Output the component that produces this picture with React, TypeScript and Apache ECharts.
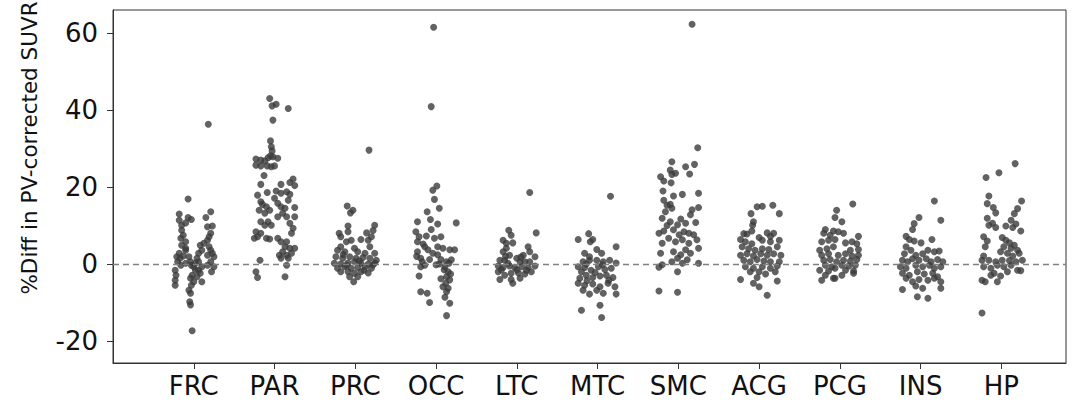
import React, { useEffect, useRef } from "react";
import * as echarts from "echarts";

const categories = ["FRC", "PAR", "PRC", "OCC", "LTC", "MTC", "SMC", "ACG", "PCG", "INS", "HP"];
const yTicks = [-20, 0, 20, 40, 60];

// each point: [jitter offset (category units), % difference]
const FRC = [[-0.18,13.0],[-0.18,11.4],[-0.07,12.1],[-0.03,11.6],[-0.15,10.1],[-0.1,10.7],[-0.15,8.8],[-0.13,7.5],[-0.16,6.7],[-0.1,5.8],[-0.15,4.9],[-0.1,4.1],[-0.18,2.8],[-0.21,1.9],[-0.17,1.5],[-0.13,2.1],[-0.2,0.6],[-0.16,-0.3],[-0.1,0.2],[-0.23,-1.6],[-0.22,-2.9],[-0.23,-4.2],[-0.23,-5.5],[-0.06,1.9],[-0.04,0.6],[-0.1,3.6],[-0.03,-0.3],[0,-0.7],[0.02,0.2],[0.04,1.5],[0.06,2.8],[0.1,3.6],[0.08,4.9],[0.125,5.4],[0.17,6.2],[0.19,7.1],[0.21,8.0],[0.23,9.9],[0.17,9.7],[0.15,12.1],[0.21,13.6],[0.19,4.5],[0.21,3.6],[0.23,2.8],[0.25,1.9],[0.17,2.3],[0.21,0.6],[0.25,-0.7],[0.22,-2.0],[0.17,-0.3],[0.1,-0.7],[0.06,-1.6],[0.08,-2.4],[0.04,-3.3],[-0.02,-2.9],[-0.04,-3.7],[0,-4.6],[-0.03,-5.5],[-0.06,-6.8],[-0.04,-7.6],[-0.05,-9.8],[-0.04,-10.6],[0.1,-4.6],[0.06,0.6],[0.02,-1.6],[0.18,36.3],[-0.07,16.9],[-0.02,-17.3]];
const PAR = [[-0.06,43.0],[-0.03,41.1],[0.02,41.5],[0.17,40.4],[-0.02,37.4],[-0.05,32.0],[-0.04,30.5],[-0.03,29.4],[-0.05,28.1],[-0.08,27.6],[-0.02,27.9],[0.04,27.5],[-0.23,27.3],[-0.17,27.0],[-0.12,26.8],[-0.23,25.7],[-0.17,25.5],[-0.09,25.5],[-0.04,25.3],[0,25.5],[-0.13,23.0],[-0.17,20.7],[0.08,20.7],[0.19,21.2],[0.23,22.1],[0.25,20.4],[-0.09,18.6],[-0.21,17.9],[0.02,19.0],[0.08,18.4],[0.15,18.8],[0.19,18.1],[-0.17,16.2],[-0.15,15.5],[-0.1,14.9],[-0.06,14.0],[-0.19,14.0],[-0.12,13.2],[0.04,15.8],[0.08,14.9],[0.13,14.5],[0.17,16.6],[0.25,14.7],[0,17.1],[-0.17,11.0],[-0.12,10.1],[-0.08,11.0],[-0.04,10.1],[0.04,12.3],[0.1,13.2],[0.15,12.3],[0.25,12.3],[0.19,10.6],[0.23,9.3],[-0.23,8.4],[-0.17,8.0],[-0.25,6.7],[-0.21,7.1],[-0.1,6.7],[-0.06,6.5],[0.04,6.7],[0.08,5.8],[0.15,5.8],[0.21,8.0],[0.13,4.5],[0.19,4.1],[0.25,4.1],[0.1,3.2],[0.06,2.3],[0.15,2.3],[0.08,1.5],[0.21,2.8],[0.17,1.5],[-0.18,1.0],[-0.23,-2.0],[-0.21,-3.5],[0.13,-3.3],[0.15,-0.3]];
const PRC = [[0.17,29.6],[-0.1,15.1],[-0.03,14.0],[-0.06,13.3],[0.24,10.1],[-0.09,9.9],[-0.2,8.0],[-0.09,8.4],[0.14,8.1],[0.22,8.7],[-0.18,7.1],[0.2,7.1],[0.07,6.4],[0.16,6.2],[-0.05,6.2],[-0.11,5.8],[-0.18,4.5],[-0.01,4.1],[0.18,4.5],[-0.22,3.6],[-0.13,3.2],[0.03,3.2],[0.12,2.8],[0.24,2.8],[-0.24,1.9],[-0.155,1.5],[-0.07,1.9],[0.01,1.5],[0.095,1.7],[0.18,1.5],[0.26,1.0],[-0.26,0.2],[-0.18,0],[-0.09,0.3],[-0.01,0.6],[0.07,0.2],[0.16,0],[0.24,0.3],[-0.22,-1.1],[-0.13,-0.7],[-0.05,-1.1],[0.03,-0.9],[0.12,-0.7],[0.2,-1.1],[-0.18,-2.0],[-0.09,-2.0],[-0.01,-2.4],[0.07,-2.0],[0.16,-2.3],[-0.07,-3.3],[0.03,-3.3],[-0.02,-4.6],[-0.15,2.5],[0.05,0.8],[-0.11,-0.3],[0.11,-1.6],[0.22,-0.2]];
const OCC = [[-0.03,61.5],[-0.06,40.9],[0.01,20.3],[-0.04,19.2],[-0.02,16.8],[-0.11,13.6],[0.04,14.5],[-0.07,11.6],[-0.23,11.0],[0.02,10.4],[0.25,10.7],[-0.25,8.4],[-0.06,9.0],[-0.21,7.1],[-0.12,7.3],[-0.02,6.7],[0.06,7.1],[-0.23,5.8],[-0.14,4.5],[-0.1,3.7],[0.02,4.5],[0.085,4.1],[0.17,3.7],[0.23,3.7],[-0.23,3.2],[-0.19,1.5],[-0.08,1.2],[0.02,2.4],[0.06,1.2],[0.13,0.6],[0.19,1.1],[-0.19,-0.7],[-0.21,-3.1],[0.11,-0.7],[0.15,-2.0],[0.13,-3.3],[0.17,-4.1],[0.085,-5.9],[0.15,-6.3],[0.13,-7.2],[-0.19,-7.2],[-0.11,-7.6],[-0.08,-10.0],[0.17,-10.2],[0.11,-8.6],[0.13,-13.4],[-0.16,5.2],[-0.24,2.0],[-0.04,2.8],[0.04,0.0],[-0.14,-0.3],[0.1,-1.5],[0.18,-2.6],[0,-0.2],[-0.17,0.6],[0.16,0.2],[0.06,-3.8],[0.12,-5.0]];
const LTC = [[0.16,18.6],[0.24,8.1],[-0.1,8.8],[-0.07,7.5],[-0.17,6.2],[-0.13,5.4],[-0.05,5.5],[-0.17,3.2],[-0.13,4.1],[-0.09,2.3],[-0.21,1.0],[-0.15,1.0],[0,1.5],[0.08,2.3],[0.14,4.5],[0.16,3.2],[0.225,1.9],[0.04,0.6],[0.1,0.6],[0.16,0.6],[-0.23,-0.5],[-0.17,-0.9],[-0.09,-0.5],[-0.025,-0.9],[0.06,-0.7],[0.14,-0.9],[0.225,-0.5],[-0.23,-2.0],[-0.15,-2.9],[-0.07,-2.4],[0.02,-2.3],[0.1,-2.6],[0.18,-2.0],[-0.21,-4.0],[-0.07,-4.0],[0.04,-3.7],[-0.05,-5.0],[-0.11,0.2],[0,-1.5],[0.12,-1.6],[-0.19,-1.5],[0.05,1.8],[-0.14,2.0]];
const MTC = [[0.16,17.6],[-0.11,7.9],[-0.24,6.4],[-0.06,6.4],[-0.09,5.8],[0.23,4.5],[-0.01,3.8],[0.05,2.8],[-0.16,2.8],[-0.1,1.9],[-0.18,0.6],[-0.1,1.0],[-0.01,1.0],[0.07,0.6],[0.15,1.0],[0.23,0.3],[-0.24,-0.7],[-0.16,-0.9],[-0.08,-1.6],[0.01,-0.7],[0.09,-1.4],[0.17,-1.1],[-0.22,-3.7],[-0.14,-2.9],[-0.06,-3.5],[0.03,-3.1],[0.11,-2.9],[0.19,-3.5],[-0.24,-5.0],[-0.16,-5.5],[-0.06,-5.2],[0.03,-5.9],[0.13,-5.0],[0.215,-5.9],[-0.18,-6.8],[-0.1,-7.8],[-0.01,-6.8],[0.07,-7.6],[0.23,-7.8],[0.03,-10.7],[-0.2,-12.0],[0.05,-13.9],[-0.13,-4.3],[0.14,-4.2],[-0.03,-2.2],[-0.2,-2.0],[0.06,-0.2],[-0.14,0.0]];
const SMC = [[0.17,62.3],[0.24,30.2],[-0.08,26.6],[0.09,25.3],[0.2,25.9],[-0.1,24.4],[-0.22,22.7],[-0.18,21.6],[-0.08,23.3],[-0.035,23.6],[0.14,23.4],[-0.09,21.1],[-0.19,19.0],[-0.06,17.7],[0.05,18.1],[0.25,18.4],[-0.18,16.6],[-0.14,15.3],[-0.1,15.5],[-0.08,14.5],[-0.16,13.6],[0.17,14.1],[0.25,14.7],[-0.2,11.9],[0.15,12.8],[0.03,11.7],[-0.1,11.0],[-0.01,10.2],[0.09,10.6],[0.215,10.8],[-0.24,8.0],[-0.18,8.6],[-0.14,10.0],[-0.06,8.9],[0.01,7.6],[0.07,8.4],[0.13,8.0],[0.19,7.6],[-0.2,5.4],[-0.12,6.7],[-0.035,5.8],[0.05,6.3],[0.13,5.4],[0.23,6.3],[-0.22,2.8],[-0.06,3.2],[0.03,2.4],[0.09,3.7],[0.15,2.8],[0.25,4.1],[-0.01,1.5],[0.11,1.1],[-0.08,0.6],[0.05,0.2],[0.25,0.2],[-0.2,-0.2],[-0.24,-0.8],[-0.01,-2.0],[-0.24,-7.0],[-0.01,-7.3]];
const ACG = [[-0.025,14.9],[0.04,15.0],[0.17,15.3],[-0.1,13.1],[0.25,13.1],[-0.07,11.0],[-0.08,10.1],[-0.09,8.6],[-0.19,7.9],[-0.15,7.8],[0,6.9],[0.1,8.1],[0.18,8.0],[0.14,7.2],[-0.23,6.4],[-0.17,5.8],[-0.09,5.3],[0.04,6.2],[0.14,5.8],[0.25,6.2],[-0.21,4.5],[-0.13,4.0],[-0.05,3.6],[0.04,4.0],[0.12,3.8],[0.225,4.5],[-0.23,2.3],[-0.15,2.7],[-0.07,2.1],[0.02,2.7],[0.1,2.3],[0.18,2.7],[0.27,2.3],[-0.19,1.0],[-0.11,0.6],[-0.025,1.2],[0.06,0.8],[0.14,0.6],[0.25,0.6],[-0.17,-0.7],[-0.07,-1.1],[0.04,-0.7],[0.14,-1.1],[0.225,-0.5],[-0.11,-2.0],[0,-2.0],[0.08,-2.6],[0.2,-2.0],[-0.23,-4.0],[-0.025,-3.5],[0.225,-4.4],[-0.07,-5.0],[0,-5.9],[0.1,-8.1]];
const PCG = [[0.16,15.6],[-0.04,14.0],[-0.06,12.1],[0.025,11.0],[-0.18,9.0],[-0.2,8.0],[-0.08,8.6],[-0.02,8.4],[0.045,8.0],[-0.12,7.5],[0.23,7.2],[-0.225,5.8],[-0.14,6.2],[-0.06,6.4],[0.07,5.5],[0.15,5.8],[0.21,5.3],[-0.25,3.6],[-0.16,4.0],[-0.08,4.5],[0.13,3.6],[0.23,3.8],[-0.225,2.3],[-0.14,2.7],[-0.02,2.3],[0.07,2.7],[0.15,2.1],[0.23,2.3],[-0.2,1.0],[-0.12,1.2],[-0.04,0.6],[0.045,1.0],[0.13,0.8],[0.21,1.2],[-0.18,-0.3],[-0.1,-0.7],[0.025,-0.3],[0.11,-0.5],[0.19,-0.3],[-0.25,-1.6],[-0.14,-1.8],[-0.06,-1.1],[0.07,-1.6],[0.17,-1.8],[-0.18,-2.9],[-0.08,-3.7],[0.025,-2.9],[0.17,-2.4],[-0.225,-4.2],[-0.06,-3.7]];
const INS = [[0.17,16.4],[-0.02,12.1],[0.25,11.4],[-0.08,10.5],[-0.1,9.0],[-0.18,7.2],[-0.14,6.4],[-0.08,6.0],[0.005,5.5],[0.14,6.4],[-0.18,4.5],[-0.2,2.7],[-0.12,3.6],[-0.06,2.3],[0.025,2.7],[0.09,3.6],[0.17,3.2],[0.23,3.4],[-0.225,1.0],[-0.16,0.6],[-0.1,1.4],[-0.02,1.0],[0.07,1.4],[0.13,0.6],[0.21,1.2],[0.275,0.6],[-0.25,-0.7],[-0.18,-1.1],[-0.06,-0.3],[0.025,-0.7],[0.11,-0.3],[0.17,-1.1],[0.25,-0.7],[-0.225,-2.4],[-0.14,-2.9],[-0.04,-2.0],[0.045,-2.6],[0.15,-2.4],[0.21,-3.3],[-0.18,-3.7],[-0.1,-4.6],[-0.02,-4.0],[0.09,-4.2],[0.17,-3.7],[0.25,-4.6],[-0.06,-5.7],[0.025,-6.3],[-0.225,-6.6],[0.25,-6.3],[-0.04,-8.5],[0.09,-8.9]];
const HP = [[0.17,26.1],[-0.03,23.7],[-0.19,22.5],[-0.155,17.7],[-0.175,15.7],[-0.1,14.7],[-0.07,13.3],[0.25,16.4],[0.2,14.4],[0.16,13.1],[-0.175,11.9],[-0.11,10.6],[-0.155,10.1],[-0.07,9.5],[0.12,11.4],[0.18,10.4],[0.14,9.5],[0.24,8.6],[0.055,9.9],[-0.22,7.1],[-0.175,6.0],[-0.2,4.5],[-0.22,2.1],[0.01,6.9],[0.055,6.2],[0.1,5.5],[0.16,4.9],[0.03,4.5],[0.12,4.1],[0.2,3.6],[-0.01,3.2],[0.075,2.8],[0.14,2.1],[0.22,2.8],[-0.24,1.0],[-0.155,1.0],[-0.07,0.6],[0.01,1.0],[0.1,0.9],[0.18,0.6],[0.26,1.0],[-0.22,-0.7],[-0.13,-1.1],[-0.05,-0.3],[0.03,-0.7],[0.12,-0.3],[0.2,-1.6],[0.24,-1.7],[-0.09,-2.4],[-0.01,-3.1],[0.075,-2.0],[-0.13,-2.9],[-0.24,-4.2],[-0.2,-4.6],[-0.05,-4.6],[-0.24,-12.7]];

const groups = [FRC, PAR, PRC, OCC, LTC, MTC, SMC, ACG, PCG, INS, HP];

const FONT = "DejaVu Sans";
const AX = "#333333";

export default function App() {
  const ref = useRef<HTMLDivElement>(null);
  useEffect(() => {
    document.body.style.margin = "0";
    const chart = echarts.init(ref.current!, null, { renderer: "svg" });
    const points = groups.flatMap((g, i) => g.map(([j, v]) => [i + j, v]));
    const catIdx = categories.map((_, i) => i);
    chart.setOption({
      animation: false,
      grid: { left: 113, right: 10, top: 10, bottom: 51, show: true, borderColor: AX, borderWidth: 1, backgroundColor: "transparent" },
      xAxis: {
        type: "value",
        min: -1,
        max: 10.8,
        splitLine: { show: false },
        axisLine: { show: true, onZero: false, lineStyle: { color: AX, width: 1 } },
        axisTick: { show: true, length: 6, lineStyle: { color: AX }, customValues: catIdx },
        axisLabel: {
          customValues: catIdx,
          formatter: (v: number) => categories[Math.round(v)] ?? "",
          fontSize: 26,
          fontFamily: FONT,
          color: "#111",
          margin: 10,
        },
      },
      yAxis: {
        type: "value",
        min: -25.7,
        max: 66,
        splitLine: { show: false },
        axisLine: { show: true, onZero: false, lineStyle: { color: AX, width: 1 } },
        axisTick: { show: true, length: 6, lineStyle: { color: AX }, customValues: yTicks },
        axisLabel: {
          customValues: yTicks,
          fontSize: 26,
          fontFamily: FONT,
          color: "#111",
          margin: 15,
        },
      },
      graphic: [
        {
          type: "text",
          x: 29,
          y: 148,
          rotation: Math.PI / 2,
          style: {
            text: "%Diff in PV-corrected SUVR",
            fontSize: 21.5,
            fontFamily: FONT,
            fill: "#111",
            align: "center",
            verticalAlign: "middle",
          },
        },
      ],
      series: [
        {
          type: "scatter",
          data: points,
          symbolSize: 7,
          itemStyle: { color: "#3b3b3b" },
          markLine: {
            silent: true,
            symbol: ["none", "none"],
            label: { show: false },
            lineStyle: { color: "#808080", type: [6, 4], width: 1.3 },
            data: [{ yAxis: 0 }],
          },
        },
      ],
    });
    return () => chart.dispose();
  }, []);
  return <div ref={ref} style={{ width: 1076, height: 414 }} />;
}
